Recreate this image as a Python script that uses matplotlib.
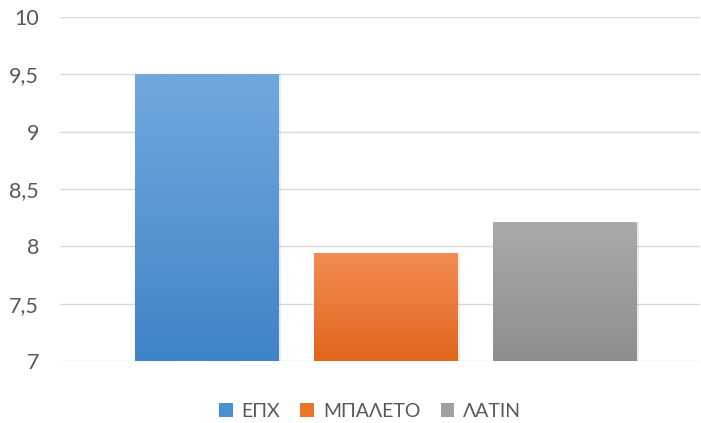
import matplotlib
matplotlib.use("Agg")
import matplotlib.pyplot as plt
import numpy as np
from matplotlib.colors import LinearSegmentedColormap
from matplotlib.patches import Patch

categories = ["ΕΠΧ", "ΜΠΑΛΕΤΟ", "ΛΑΤΙΝ"]
values = [9.5, 7.94, 8.21]
yticks = [7, 7.5, 8, 8.5, 9, 9.5, 10]
ytick_labels = ["7", "7,5", "8", "8,5", "9", "9,5", "10"]

top_colors = ["#72a8de", "#f28c54", "#aaaaaa"]
bottom_colors = ["#3f84c6", "#e0661c", "#8e8e8e"]
legend_colors = ["#4a8fd0", "#ec7428", "#a0a0a0"]

plt.rcParams['font.family'] = ['Lato', 'DejaVu Sans']

fig = plt.figure(figsize=(7.01, 4.23), dpi=100)
ax = fig.add_axes([60/701, 62/423, 640/701, 344/423])

x = np.arange(len(categories))
width = 0.804

for i, (xi, v) in enumerate(zip(x, values)):
    # shadow
    ax.bar(xi + 0.012, v - 7, width=width, bottom=7, color="#000000", alpha=0.08, zorder=2)
    bars = ax.bar(xi, v - 7, width=width, bottom=7, color=bottom_colors[i], zorder=3)
    cmap = LinearSegmentedColormap.from_list("g", [bottom_colors[i], top_colors[i]])
    grad = np.linspace(0, 1, 256).reshape(-1, 1)
    im = ax.imshow(grad, cmap=cmap, aspect="auto", origin="lower",
                   extent=[xi - width/2, xi + width/2, 7, v], zorder=4)
    im.set_clip_path(bars.patches[0])

ax.set_xlim(-0.821, 2.754)
ax.set_ylim(7, 10)

ax.set_yticks(yticks)
ax.set_yticklabels(ytick_labels, fontsize=15.5, color="#595959")
ax.tick_params(axis="y", length=0, pad=15)
ax.set_xticks([])
ax.yaxis.grid(True, color="#d9d9d9", linewidth=1.0, zorder=0)
ax.set_axisbelow(True)
for s in ax.spines.values():
    s.set_visible(False)

handles = [Patch(facecolor=c, edgecolor="none") for c in legend_colors]
fig.legend(handles, categories, loc="center", bbox_to_anchor=(370/701, 1 - 411/423),
           ncol=3, frameon=False, fontsize=14, labelcolor="#595959",
           handlelength=0.7, handleheight=0.7, handletextpad=0.45, columnspacing=1.05)

fig.savefig("out.png", dpi=100)
